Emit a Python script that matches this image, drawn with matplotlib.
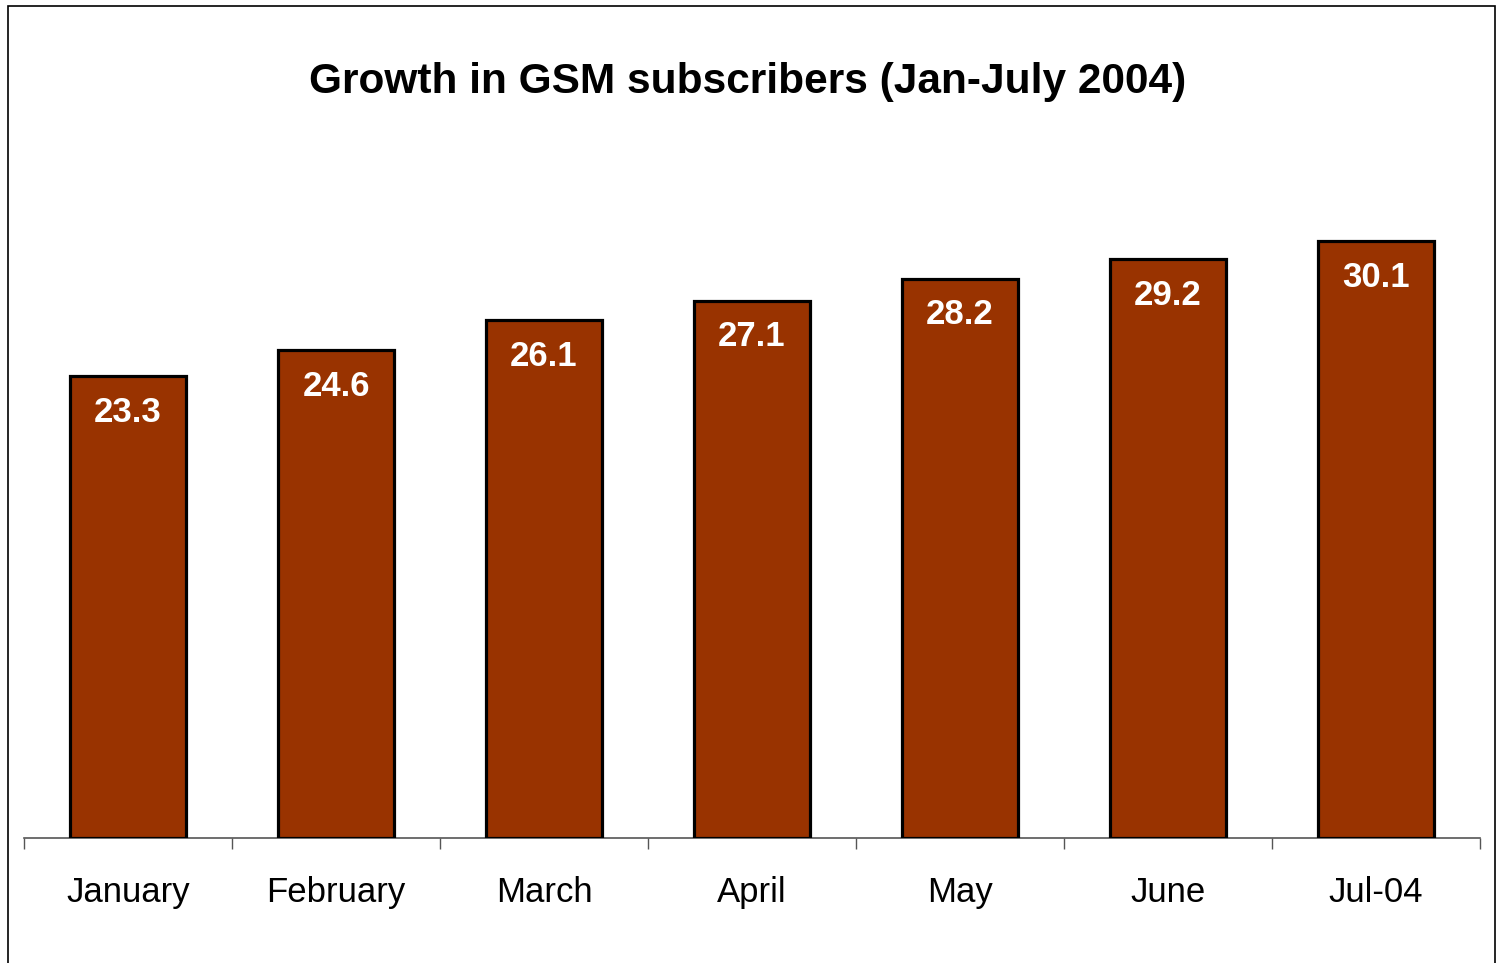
import matplotlib.pyplot as plt
from matplotlib.patches import Rectangle

months = ["January", "February", "March", "April", "May", "June", "Jul-04"]
subscribers = [23.3, 24.6, 26.1, 27.1, 28.2, 29.2, 30.1]

plt.rcParams['font.family'] = ['Liberation Sans', 'DejaVu Sans']

fig = plt.figure(figsize=(14.96, 9.63), dpi=100)
ax = fig.add_axes([24/1496, 125/963, 1456/1496, 694/963])

x = range(len(months))
ax.bar(x, subscribers, width=0.56, color="#993300", edgecolor="black",
       linewidth=2.3, zorder=3)

for i, v in enumerate(subscribers):
    ax.annotate("%.1f" % v, (i, v), xytext=(0, -26), textcoords="offset points",
                ha="center", va="center", color="white", fontsize=25,
                fontweight="bold")

ax.set_xlim(-0.5, len(months) - 0.5)
ax.set_ylim(0, 35)
ax.set_yticks([])
for s in ["top", "right", "left"]:
    ax.spines[s].set_visible(False)
ax.spines["bottom"].set_color("#555555")
ax.spines["bottom"].set_linewidth(1.2)

ax.set_xticks([i - 0.5 for i in range(len(months) + 1)])
ax.set_xticklabels([])
ax.tick_params(axis="x", length=8, width=1, color="#555555", direction="out")
for i, m in enumerate(months):
    ax.text(i, -0.079, m, transform=ax.get_xaxis_transform(), ha="center",
            va="center", fontsize=25)

fig.text(0.5, 1 - 82/963, "Growth in GSM subscribers (Jan-July 2004)",
         ha="center", va="center", fontsize=30.5, fontweight="bold")

fig.patches.append(Rectangle((8/1496, -0.01), 1487/1496, 1 - 6/963 + 0.01,
                             transform=fig.transFigure, fill=False,
                             edgecolor="black", linewidth=1.2))

plt.savefig("out.png")
plt.close()
